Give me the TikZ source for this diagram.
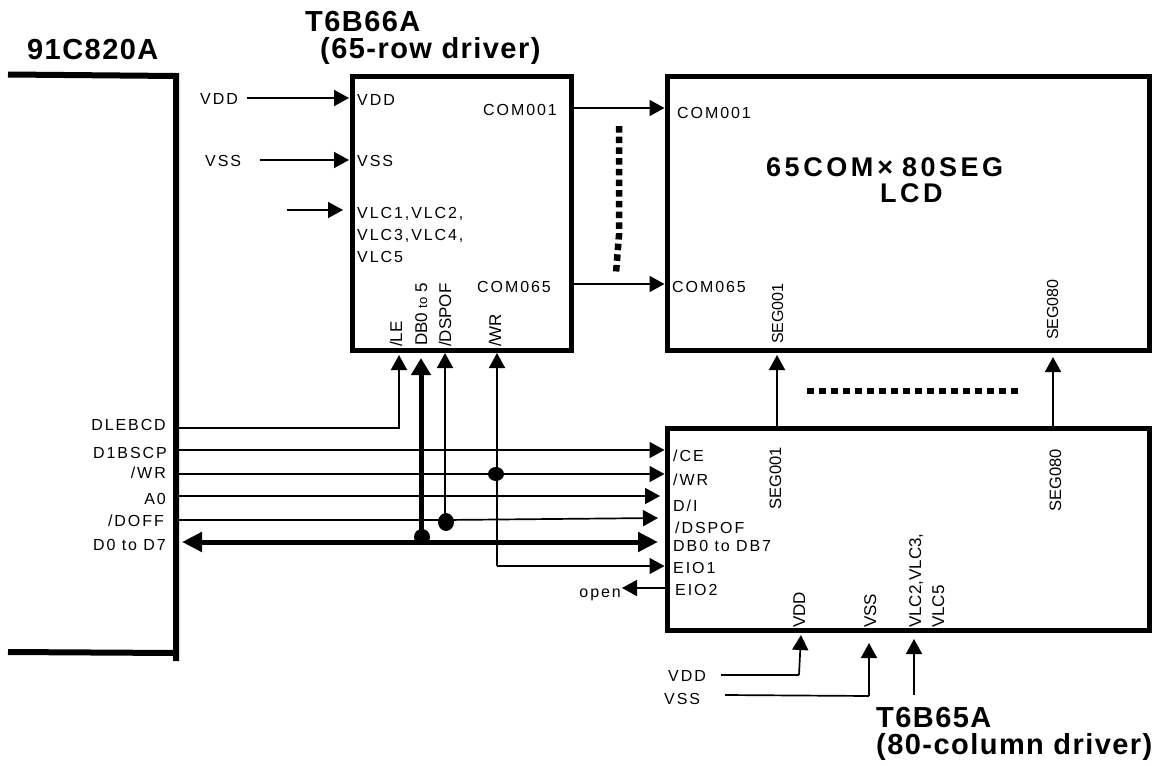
\documentclass[tikz,border=0pt]{standalone}
\usepackage{fontspec}
\setmainfont{Liberation Sans}
\newfontfamily\lblfont[LetterSpace=12]{Liberation Sans}
\newfontfamily\rotfont{Liberation Sans}
\newfontfamily\ttlfont[LetterSpace=5,BoldFont={Liberation Sans Bold}]{Liberation Sans}
\newfontfamily\lcdfont[LetterSpace=13,BoldFont={Liberation Sans Bold}]{Liberation Sans}
\usetikzlibrary{arrows.meta, positioning, shapes.geometric, calc}

\begin{document}
\begin{tikzpicture}[
  x=1pt, y=-1pt,
  chip/.style={rectangle, draw, line width=5pt, inner sep=0pt, outer sep=0pt},
  wall/.style={line width=6pt},
  lbl/.style={font=\fontsize{16}{16}\selectfont\lblfont, inner sep=0pt, anchor=base west},
  lblr/.style={font=\fontsize{16}{16}\selectfont\lblfont, inner sep=0pt, anchor=base east},
  rot/.style={font=\fontsize{17}{17}\selectfont\rotfont, inner sep=0pt, anchor=base west, rotate=90},
  ttl/.style={font=\fontsize{29}{29}\selectfont\ttlfont\bfseries, inner sep=0pt, anchor=base west},
  lcdttl/.style={font=\fontsize{27}{27}\selectfont\lcdfont\bfseries, inner sep=0pt, anchor=base west},
  arr/.style={-{Triangle[length=15pt, width=16pt]}, line width=1.7pt},
  wire/.style={line width=1.7pt},
  bus/.style={{Triangle[length=20pt, width=19pt]}-{Triangle[length=20pt, width=19pt]}, line width=5pt},
  busv/.style={-{Triangle[length=17pt, width=19pt]}, line width=5pt},
  dots/.style={line width=6.5pt, dash pattern=on 6.5pt off 4.2pt},
  dot/.style={ellipse, fill, inner sep=0pt, minimum width=16pt, minimum height=16pt}
]
\useasboundingbox (0,0) rectangle (1158,765);
%% boxes
\node[inner sep=0pt, outer sep=0pt, minimum width=168pt, minimum height=577pt] (cpu) at (92,364.5) {};
\node[chip, minimum width=219.5pt, minimum height=273pt] (row) at (461.75,213.5) {};
\node[chip, minimum width=482pt, minimum height=273pt] (lcd) at (908.5,213.5) {};
\node[chip, minimum width=482pt, minimum height=201.5pt] (col) at (908.5,529.25) {};
\draw[wall] ($(cpu.north west)+(0,-1.5)$) -- (cpu.north east) -- ($(cpu.south east)+(0,8)$);
\draw[wall] ($(cpu.south west)+(0,-1)$) -- (cpu.south east);
%% titles
\node[ttl] (t_cpu) at (27,60) {91C820A};
\node[ttl] (t_row) at (305,32) {T6B66A};
\node[ttl] (t_row2) at (320,59) {(65-row driver)};
\node[ttl] (t_col) at (876,727) {T6B65A};
\node[ttl] (t_col2) at (876,754) {(80-column driver)};
\node[lcdttl] (t_lcd) at (766,176) {65COM\kern4pt×\kern9pt 80SEG};
\node[lcdttl] (t_lcd2) at (880,202) {LCD};
%% cpu pins
\node[lblr] (p_le) at (166,430) {DLEBCD};
\node[lblr] (p_cs) at (167,458) {D1BSCP};
\node[lblr] (p_wr) at (166,478) {/WR};
\node[lblr] (p_a0) at (166,504) {A0};
\node[lblr] (p_off) at (164,526) {/DOFF};
\node[lblr] (p_db) at (166,550) {D0 to D7};
%% row driver pins
\node[lbl] (i_vdd) at (200,105) {VDD};
\node[lbl] (i_vss) at (205,166) {VSS};
\node[lbl] (r_vdd) at (357,106) {VDD};
\node[lbl] (r_vss) at (357,166) {VSS};
\node[lbl] (r_vlc1) at (357,218) {VLC1,VLC2,};
\node[lbl] (r_vlc2) at (357,240) {VLC3,VLC4,};
\node[lbl] (r_vlc3) at (357,262) {VLC5};
\node[lbl] (r_c1) at (483,116) {COM001};
\node[lbl] (r_c65) at (477,292) {COM065};
\node[rot] (r_le) at (402,347) {/LE};
\node[rot] (r_db) at (427,346) {DB0 {\fontsize{13}{13}\selectfont to} 5};
\node[rot] (r_off) at (451,347) {/DSPOF};
\node[rot] (r_wr) at (501,347) {/WR};
%% lcd pins
\node[lbl] (l_c1) at (677,119) {COM001};
\node[lbl] (l_c65) at (672,292) {COM065};
\node[rot, font=\fontsize{16}{16}\selectfont\rotfont] (l_s1) at (783,344) {SEG001};
\node[rot, font=\fontsize{16}{16}\selectfont\rotfont] (l_s80) at (1058,340) {SEG080};
%% column driver pins
\node[lbl] (c_ce) at (673,461) {/CE};
\node[lbl] (c_wr) at (673,485) {/WR};
\node[lbl] (c_di) at (673,511) {D/I};
\node[lbl] (c_off) at (675,533) {/DSPOF};
\node[lbl] (c_db) at (673,551) {DB0 to DB7};
\node[lbl] (c_e1) at (673,573) {EIO1};
\node[lbl] (c_e2) at (675,595) {EIO2};
\node[lblr] (c_open) at (621,597) {open};
\node[rot, font=\fontsize{16.5}{16.5}\selectfont\rotfont] (c_s1) at (781,510) {SEG001};
\node[rot, font=\fontsize{16.5}{16.5}\selectfont\rotfont] (c_s80) at (1061,512) {SEG080};
\node[rot] (c_vdd) at (805,628) {VDD};
\node[rot] (c_vss) at (876,628) {VSS};
\node[rot] (c_vlc1) at (921,628) {VLC2,VLC3,};
\node[rot] (c_vlc2) at (944,628) {VLC5};
\node[lbl] (b_vdd) at (668,681) {VDD};
\node[lbl] (b_vss) at (664,704) {VSS};
%% junctions
\node[dot, minimum height=14pt] (j_wr) at (496,474) {};
\node[dot, minimum height=18pt] (j_off) at (446,522) {};
\node[dot] (j_db) at (422,537) {};
%% free ends
\coordinate (s_vdd) at (247,98);
\coordinate (s_vss) at (260,160);
\coordinate (s_vlc) at (287,210);
\coordinate (e_vlc) at (343,210);
\coordinate (b_le) at (399,428);
\coordinate (t_le) at (399,355);
\coordinate (t_db) at (421,358);
\coordinate (t_off) at (445,353);
\coordinate (t_wr) at (497,353);
\coordinate (b_wr) at (497,566);
\coordinate (k_off) at (445,520);
\coordinate (t_s1) at (777,355);
\coordinate (t_s80) at (1053,357);
\coordinate (s_bvdd) at (721,675);
\coordinate (k_bvdd) at (799,675);
\coordinate (t_bvdd) at (801,635);
\coordinate (s_bvss) at (725,695);
\coordinate (k_bvss) at (869,696);
\coordinate (t_bvss) at (869,643);
\coordinate (s_bvlc) at (914,695);
\coordinate (t_bvlc) at (914,639);
\coordinate (o_tip) at (622,588);
%% row driver inputs
\draw[arr] (s_vdd) -- ($(s_vdd -| row.west)+(-3,0)$);
\draw[arr] (s_vss) -- ($(s_vss -| row.west)+(-3,0)$);
\draw[arr] (s_vlc) -- (e_vlc);
%% row to lcd
\draw[arr] (row.east |- 0,108) -- ($(lcd.west |- 0,108)+(-3,0)$);
\draw[arr] (row.east |- 0,284) -- ($(lcd.west |- 0,284)+(-3,0)$);
\draw[dots] (619,126) -- (619,235) -- (616,273);
%% column to lcd
\draw[arr] (t_s1 |- col.north) -- (t_s1);
\draw[arr] (t_s80 |- col.north) -- (t_s80);
\draw[dots, dash pattern=on 7pt off 5pt] (807,391) -- (1020,391);
%% cpu to drivers
\draw[arr] (cpu.east |- b_le) -- (b_le) -- (t_le);
\draw[arr] (cpu.east |- 0,450) -- ($(col.west |- 0,450)+(-3,0)$);
\draw[arr] (cpu.east |- j_wr) -- (j_wr) -- ($(col.west |- j_wr)+(-3,0)$);
\draw[arr] (cpu.east |- 0,496) -- (660,496);
\draw[arr] (cpu.east |- 0,520) -- (k_off) -- (658,518);
\draw[bus] (182,542) -- (658,542);
\draw[busv] (t_db |- 0,542) -- (t_db);
\draw[arr] (k_off) -- (t_off);
\draw[arr] (b_wr) -- (t_wr);
\draw[arr] (b_wr) -- ($(col.west |- b_wr)+(-3,0)$);
\draw[arr] (col.west |- o_tip) -- (o_tip);
%% column driver supplies
\draw[wire] (s_bvdd) -- (k_bvdd);
\draw[arr] (k_bvdd) -- (t_bvdd);
\draw[wire] (s_bvss) -- (k_bvss);
\draw[arr] (k_bvss) -- (t_bvss);
\draw[arr] (s_bvlc) -- (t_bvlc);
\end{tikzpicture}
\end{document}
